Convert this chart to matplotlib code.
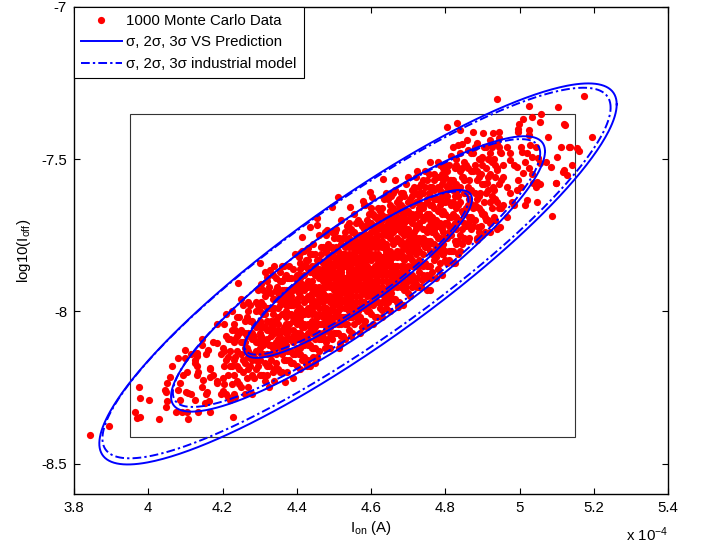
import numpy as np
import matplotlib
matplotlib.use("Agg")
import matplotlib.pyplot as plt
from matplotlib.patches import Rectangle
from matplotlib.lines import Line2D

plt.rcParams['font.family'] = ['Liberation Sans', 'DejaVu Sans']
plt.rcParams['mathtext.fontset'] = 'custom'
plt.rcParams['mathtext.rm'] = 'Liberation Sans'
plt.rcParams['mathtext.it'] = 'Liberation Sans:italic'
plt.rcParams['mathtext.default'] = 'regular'
plt.rcParams['axes.unicode_minus'] = False

# ---------------------------------------------------------------------------
# Monte Carlo samples: I_on (x 1e-4 A) -> list of log10(I_off) values
# ---------------------------------------------------------------------------
ion_cols_low = {
    4.20: [-8.12, -8.22, -8.26],
    4.21: [-8.16, -8.08, -8.27, -8.01],
    4.22: [-8.18, -8.09, -8.29, -8.13],
    4.23: [-8.10, -8.21, -8.04, -8.16],
    4.24: [-8.13, -8.23, -8.02, -8.18, -8.08],
    4.25: [-8.14, -8.06, -8.25, -8.10, -7.96],
    4.26: [-8.10, -8.17, -8.03, -8.27, -8.12, -8.07],
    4.27: [-8.13, -8.07, -8.19, -8.00, -8.15, -7.97],
    4.28: [-8.07, -8.16, -8.03, -8.21, -8.09, -8.27],
    4.29: [-8.10, -8.05, -8.13, -8.00, -8.19, -7.97, -8.16],
    4.30: [-8.09, -8.12, -8.05, -8.16, -8.00, -8.21, -8.07, -8.03],
    4.31: [-7.98, -8.09, -8.05, -8.21, -8.01, -8.14, -7.93, -8.11],
    4.32: [-8.03, -8.21, -7.99, -8.14, -7.94, -8.09, -8.06, -7.90, -8.18],
    4.33: [-8.04, -8.08, -7.99, -8.11, -8.03, -8.16, -7.94, -8.14, -8.06],
    4.34: [-8.06, -7.96, -8.23, -8.03, -8.11, -7.99, -8.07, -7.85, -8.19, -8.04],
    4.35: [-8.02, -8.06, -8.11, -7.96, -8.09, -7.99, -8.19, -8.04, -7.94, -8.07],
    4.36: [-8.09, -7.90, -8.13, -7.93, -8.20, -7.97, -8.06, -8.01, -8.14, -7.85, -8.10],
    4.37: [-8.02, -8.07, -7.98, -8.11, -7.93, -8.04, -8.00, -8.16, -7.96, -8.09, -7.88, -8.06],
    4.38: [-7.98, -8.16, -7.94, -8.09, -7.89, -8.04, -8.01, -7.85, -8.13, -7.97, -8.06, -7.93],
    4.39: [-8.10, -8.02, -7.97, -8.17, -7.93, -8.06, -7.86, -8.03, -7.98, -8.14, -7.92, -8.08, -8.22],
}

ion_cols_mid = {
    4.40: [-8.03, -7.96, -8.07, -8.00, -7.93, -8.12, -7.97, -8.04, -7.88, -8.09, -8.01, -7.91, -8.18, -7.98],
    4.41: [-8.14, -7.99, -7.89, -8.02, -8.09, -7.95, -7.84, -8.07, -8.00, -8.12, -7.92, -8.03, -7.86, -8.19],
    4.42: [-8.11, -7.97, -7.93, -8.00, -8.04, -7.85, -8.08, -7.88, -8.15, -7.92, -8.01, -7.96, -8.09, -7.80, -8.05],
    4.43: [-7.99, -7.95, -8.11, -7.91, -8.04, -7.83, -8.01, -7.90, -8.09, -7.96, -8.16, -7.86, -8.00, -7.92, -8.07],
    4.44: [-7.99, -7.96, -8.03, -7.92, -8.07, -7.87, -7.98, -8.01, -7.94, -8.12, -7.90, -8.05, -7.85, -8.00, -7.97, -7.81],
    4.45: [-7.94, -8.07, -7.85, -8.05, -7.97, -7.92, -8.12, -7.88, -8.01, -7.81, -7.98, -7.93, -8.09, -7.87, -8.03, -8.17],
    4.46: [-7.95, -7.88, -8.07, -7.92, -7.99, -7.83, -8.04, -7.96, -7.86, -8.13, -7.93, -8.01, -7.89, -7.97, -7.75, -8.09, -7.94],
    4.47: [-7.92, -7.96, -8.01, -7.86, -7.99, -7.89, -8.09, -7.94, -7.84, -7.97, -8.04, -7.90, -7.79, -8.02, -7.95, -8.07, -7.87],
    4.48: [-7.90, -8.01, -7.85, -8.06, -7.92, -7.88, -7.95, -7.99, -7.80, -8.03, -7.83, -8.10, -7.87, -7.96, -7.91, -8.04, -7.75, -8.00],
    4.49: [-7.89, -8.02, -7.84, -7.95, -7.91, -8.07, -7.87, -8.00, -7.79, -7.97, -7.86, -8.05, -7.92, -8.12, -7.82, -7.96, -7.88, -8.03],
    4.50: [-7.91, -7.98, -7.87, -8.02, -7.82, -7.93, -7.96, -7.89, -8.07, -7.85, -8.00, -7.80, -7.95, -7.92, -7.76, -8.04, -7.88, -7.97, -7.84],
    4.51: [-7.90, -7.94, -7.85, -7.97, -7.89, -8.02, -7.80, -8.00, -7.92, -7.87, -8.07, -7.83, -7.96, -7.76, -7.93, -7.88, -8.04, -7.82, -7.98],
    4.52: [-7.86, -7.97, -7.90, -7.83, -8.02, -7.87, -7.94, -7.78, -7.99, -7.91, -7.81, -8.08, -7.88, -7.96, -7.84, -7.92, -7.70, -8.04, -7.89],
    4.53: [-7.91, -7.96, -7.81, -7.94, -7.84, -8.04, -7.89, -7.79, -7.92, -7.99, -7.85, -7.74, -7.97, -7.90, -8.02, -7.82, -7.93, -7.76, -8.09],
    4.54: [-7.90, -7.93, -7.86, -7.97, -7.81, -8.02, -7.88, -7.84, -7.91, -7.95, -7.76, -7.99, -7.79, -8.06, -7.83, -7.92, -7.87, -8.00, -7.71, -7.96],
    4.55: [-7.88, -7.93, -7.84, -7.97, -7.79, -7.90, -7.86, -8.02, -7.82, -7.95, -7.74, -7.92, -7.81, -8.00, -7.87, -8.07, -7.77, -7.91, -7.83, -7.98],
    4.56: [-7.89, -7.86, -7.93, -7.82, -7.97, -7.77, -7.88, -7.91, -7.84, -8.02, -7.80, -7.95, -7.75, -7.90, -7.87, -7.71, -7.99, -7.83, -7.92, -7.79],
    4.57: [-7.85, -7.89, -7.80, -7.92, -7.84, -7.97, -7.75, -7.95, -7.87, -7.82, -8.02, -7.78, -7.91, -7.71, -7.88, -7.83, -7.99, -7.77, -7.93, -8.07],
    4.58: [-7.88, -7.81, -7.92, -7.85, -7.78, -7.97, -7.82, -7.89, -7.73, -7.94, -7.86, -7.76, -8.03, -7.83, -7.91, -7.79, -7.87, -7.65, -7.99, -7.84],
    4.59: [-7.83, -7.87, -7.92, -7.77, -7.90, -7.80, -8.00, -7.85, -7.75, -7.88, -7.95, -7.81, -7.70, -7.93, -7.86, -7.98, -7.78, -7.89, -7.72, -8.05],
    4.60: [-7.88, -7.81, -7.92, -7.76, -7.97, -7.83, -7.79, -7.86, -7.90, -7.71, -7.94, -7.74, -8.01, -7.78, -7.87, -7.82, -7.95, -7.66, -7.91],
    4.61: [-7.88, -7.79, -7.92, -7.74, -7.85, -7.81, -7.97, -7.77, -7.90, -7.69, -7.87, -7.76, -7.95, -7.82, -8.02, -7.72, -7.86, -7.78, -7.93],
    4.62: [-7.84, -7.81, -7.88, -7.77, -7.92, -7.72, -7.83, -7.86, -7.79, -7.97, -7.75, -7.90, -7.70, -7.85, -7.82, -7.66, -7.94, -7.78, -7.87],
    4.63: [-7.84, -7.75, -7.87, -7.79, -7.92, -7.70, -7.90, -7.82, -7.77, -7.97, -7.73, -7.86, -7.66, -7.83, -7.78, -7.94, -7.72, -7.88, -8.02],
    4.64: [-7.88, -7.81, -7.74, -7.93, -7.78, -7.85, -7.69, -7.90, -7.82, -7.72, -7.99, -7.79, -7.87, -7.75, -7.83, -7.61, -7.95, -7.80],
    4.65: [-7.87, -7.72, -7.85, -7.75, -7.95, -7.80, -7.70, -7.83, -7.90, -7.76, -7.65, -7.88, -7.81, -7.93, -7.73, -7.84, -7.67, -8.00],
    4.66: [-7.87, -7.71, -7.92, -7.78, -7.74, -7.81, -7.85, -7.66, -7.89, -7.69, -7.96, -7.73, -7.82, -7.77, -7.90, -7.61, -7.86],
    4.67: [-7.87, -7.69, -7.80, -7.76, -7.92, -7.72, -7.85, -7.64, -7.82, -7.71, -7.90, -7.77, -7.97, -7.67, -7.81, -7.73, -7.88],
    4.68: [-7.87, -7.67, -7.78, -7.81, -7.74, -7.92, -7.70, -7.85, -7.65, -7.80, -7.77, -7.61, -7.89, -7.73, -7.82, -7.69],
    4.69: [-7.71, -7.83, -7.75, -7.88, -7.66, -7.86, -7.78, -7.73, -7.93, -7.69, -7.82, -7.62, -7.79, -7.74, -7.90, -7.68],
}

ion_cols_high = {
    4.70: [-7.88, -7.73, -7.80, -7.64, -7.85, -7.77, -7.67, -7.94, -7.74, -7.82, -7.70, -7.78, -7.56, -7.90, -7.75],
    4.71: [-7.80, -7.70, -7.90, -7.75, -7.65, -7.78, -7.85, -7.71, -7.60, -7.83, -7.76, -7.88, -7.68, -7.79, -7.62],
    4.72: [-7.73, -7.69, -7.76, -7.80, -7.61, -7.84, -7.64, -7.91, -7.68, -7.77, -7.72, -7.85, -7.56, -7.81],
    4.73: [-7.71, -7.87, -7.67, -7.80, -7.59, -7.77, -7.66, -7.85, -7.72, -7.92, -7.62, -7.76, -7.68, -7.83],
    4.74: [-7.77, -7.70, -7.88, -7.66, -7.81, -7.61, -7.76, -7.73, -7.57, -7.85, -7.69, -7.78, -7.65],
    4.75: [-7.73, -7.68, -7.88, -7.64, -7.77, -7.57, -7.74, -7.69, -7.85, -7.63, -7.79, -7.93],
    4.76: [-7.59, -7.80, -7.72, -7.62, -7.89, -7.69, -7.77, -7.65, -7.73, -7.51, -7.85, -7.70],
    4.77: [-7.60, -7.73, -7.80, -7.66, -7.55, -7.78, -7.71, -7.83, -7.63, -7.74, -7.57],
    4.78: [-7.56, -7.79, -7.59, -7.86, -7.63, -7.72, -7.67, -7.80, -7.51, -7.76],
    4.79: [-7.55, -7.73, -7.62, -7.81, -7.68, -7.88, -7.58, -7.72, -7.64, -7.79],
    4.80: [-7.83, -7.61, -7.76, -7.56, -7.71, -7.68, -7.52, -7.80, -7.64],
    4.81: [-7.83, -7.59, -7.72, -7.52, -7.69, -7.64, -7.80, -7.58, -7.74],
    4.82: [-7.57, -7.84, -7.64, -7.72, -7.60, -7.68, -7.46, -7.80],
    4.83: [-7.61, -7.50, -7.73, -7.66, -7.78, -7.58, -7.69, -7.52],
    4.84: [-7.64, -7.75, -7.54, -7.70, -7.59, -7.80, -7.48],
    4.85: [-7.68, -7.57, -7.76, -7.61, -7.51, -7.71],
    4.86: [-7.59, -7.71, -7.53, -7.65, -7.77, -7.47],
    4.87: [-7.65, -7.54, -7.73, -7.60, -7.48, -7.69],
    4.88: [-7.61, -7.70, -7.52, -7.65, -7.46],
    4.89: [-7.66, -7.56, -7.74, -7.50, -7.62],
    4.90: [-7.58, -7.68, -7.52, -7.75],
    4.91: [-7.61, -7.53, -7.70, -7.46],
    4.92: [-7.55, -7.64, -7.48, -7.74],
    4.93: [-7.60, -7.50, -7.69],
    4.94: [-7.53, -7.64, -7.45],
    4.95: [-7.57, -7.48, -7.66],
}

ion_cols_tail_low = {
    4.105: [-8.20, -8.33], 4.115: [-8.27, -8.14], 4.125: [-8.16, -8.29],
    4.135: [-8.33, -8.20], 4.145: [-8.09, -8.25], 4.155: [-8.27, -8.14],
    4.165: [-8.19, -8.33], 4.175: [-8.10, -8.21], 4.185: [-8.23, -8.04],
    4.195: [-8.14, -8.27],
    4.205: [-8.13, -8.24, -8.04, -8.18],
    4.215: [-8.21, -8.09, -8.28, -8.15],
    4.225: [-8.06, -8.18, -8.24, -8.00],
    4.235: [-8.15, -8.09, -8.28, -8.06],
    4.245: [-8.07, -8.19, -8.02, -8.24],
    4.255: [-8.16, -8.10, -7.98, -8.20],
    4.265: [-8.02, -8.22, -8.12, -8.08],
    4.275: [-8.18, -8.03, -8.14, -7.98],
    4.285: [-8.08, -8.22, -8.04, -8.15],
    4.295: [-8.18, -7.98, -8.10, -7.93],
    4.305: [-8.04, -8.14, -7.97, -8.21, -8.08, -7.91],
    4.315: [-8.10, -8.01, -8.17, -7.95, -8.23, -8.05],
    4.325: [-7.99, -8.11, -8.18, -7.92, -8.06, -8.25],
    4.335: [-8.12, -7.96, -8.07, -8.20, -8.01, -7.88],
    4.345: [-8.03, -8.14, -7.93, -8.10, -7.89, -8.17],
    4.355: [-8.07, -7.98, -8.20, -7.95, -8.12, -7.90],
    4.365: [-7.93, -8.11, -8.01, -8.16, -7.85, -8.05],
    4.375: [-8.13, -7.98, -7.89, -8.07, -8.20, -7.95],
    4.385: [-8.01, -8.13, -7.95, -8.17, -7.89, -7.98],
    4.395: [-8.09, -7.89, -8.03, -7.92, -8.14, -7.81],
}

ion_cols_ring = {
    4.405: [-7.88, -8.14, -7.82, -8.08, -7.94],
    4.415: [-8.16, -7.91, -8.05, -7.80, -8.11],
    4.425: [-7.85, -8.09, -8.17, -7.92, -7.83],
    4.435: [-8.11, -7.81, -8.05, -7.87, -8.18],
    4.445: [-7.87, -8.12, -7.78, -8.06, -7.93],
    4.455: [-8.08, -7.83, -8.15, -7.88, -8.02],
    4.465: [-7.79, -8.04, -7.81, -8.09, -7.94],
    4.475: [-8.09, -7.84, -8.12, -7.74, -7.99],
    4.485: [-7.85, -8.12, -7.81, -8.04, -7.78],
    4.495: [-8.04, -7.74, -7.99, -7.79, -8.09],
    4.505: [-7.79, -8.07, -7.73, -8.01],
    4.515: [-8.04, -7.76, -8.12, -7.84],
    4.525: [-7.76, -8.02, -7.81, -8.08],
    4.535: [-8.04, -7.72, -7.98, -7.78],
    4.545: [-7.78, -8.08, -7.73, -8.02],
    4.555: [-8.04, -7.74, -7.98, -7.68],
    4.565: [-7.70, -8.00, -7.79, -8.03],
    4.575: [-7.97, -7.75, -8.05, -7.72],
    4.585: [-7.72, -8.03, -7.65, -7.94],
    4.595: [-8.00, -7.75, -7.98, -7.68],
    4.605: [-7.72, -7.98, -7.68, -8.04],
    4.615: [-8.02, -7.69, -7.93, -7.73],
    4.625: [-7.67, -7.93, -7.70, -7.99],
    4.635: [-7.95, -7.63, -7.97, -7.73],
    4.645: [-7.71, -7.97, -7.63, -7.92],
    4.655: [-7.68, -7.94, -7.62, -7.88, -7.74],
    4.665: [-7.96, -7.71, -7.85, -7.60, -7.91],
    4.675: [-7.65, -7.89, -7.97, -7.72, -7.63],
    4.685: [-7.91, -7.61, -7.85, -7.67, -7.98],
    4.695: [-7.67, -7.92, -7.58, -7.86, -7.73],
    4.705: [-7.88, -7.63, -7.95, -7.68, -7.82],
    4.715: [-7.59, -7.84, -7.61, -7.89, -7.74],
    4.725: [-7.89, -7.64, -7.92, -7.54, -7.79],
    4.735: [-7.65, -7.92, -7.61, -7.84, -7.58],
    4.745: [-7.84, -7.54, -7.79, -7.59, -7.89],
}

ion_cols_tail_high = {
    4.755: [-7.68, -7.78, -7.61, -7.85, -7.72, -7.55],
    4.765: [-7.74, -7.65, -7.81, -7.59, -7.87, -7.69],
    4.775: [-7.63, -7.75, -7.82, -7.56, -7.70, -7.89],
    4.785: [-7.76, -7.60, -7.71, -7.84, -7.65, -7.52],
    4.795: [-7.67, -7.78, -7.57, -7.74, -7.53, -7.81],
    4.805: [-7.71, -7.62, -7.84, -7.59, -7.76, -7.54],
    4.815: [-7.57, -7.75, -7.65, -7.80, -7.49, -7.69],
    4.825: [-7.77, -7.62, -7.53, -7.71, -7.84, -7.59],
    4.835: [-7.65, -7.77, -7.59, -7.81, -7.53, -7.62],
    4.845: [-7.73, -7.53, -7.67, -7.56, -7.78, -7.45],
    4.855: [-7.61, -7.72, -7.52, -7.66],
    4.865: [-7.69, -7.57, -7.76, -7.63],
    4.875: [-7.54, -7.66, -7.72, -7.48],
    4.885: [-7.63, -7.57, -7.76, -7.54],
    4.895: [-7.55, -7.67, -7.50, -7.72],
    4.905: [-7.64, -7.58, -7.46, -7.68],
    4.915: [-7.50, -7.70, -7.60, -7.56],
    4.925: [-7.66, -7.51, -7.62, -7.46],
    4.935: [-7.56, -7.70, -7.52, -7.63],
    4.945: [-7.66, -7.46, -7.58, -7.41],
    4.955: [-7.52, -7.65], 4.965: [-7.59, -7.46], 4.975: [-7.48, -7.61],
    4.985: [-7.65, -7.52], 4.995: [-7.41, -7.57], 5.005: [-7.59, -7.46],
    5.015: [-7.51, -7.65], 5.025: [-7.42, -7.53], 5.035: [-7.55, -7.36],
    5.045: [-7.46, -7.59],
}

# scattered samples away from the dense band: (I_on x1e-4, log10 I_off)
sparse_low = [
    (3.843, -8.405), (3.894, -8.375), (3.964, -8.332), (3.978, -8.346), (3.970, -8.350),
    (4.029, -8.355), (3.975, -8.247), (3.978, -8.283), (4.002, -8.290), (4.048, -8.264),
    (4.051, -8.296), (4.048, -8.313), (4.075, -8.329), (4.107, -8.355), (4.229, -8.346),
    (4.059, -8.214), (4.081, -8.152), (4.064, -8.180), (4.086, -8.234), (4.102, -8.264),
    (4.132, -8.180), (4.132, -8.147), (4.051, -8.234), (4.045, -8.257), (4.091, -8.332),
    (4.086, -8.290), (4.081, -8.257), (4.107, -8.267), (4.099, -8.152), (4.094, -8.208),
    (4.126, -8.168), (4.132, -8.208), (4.148, -8.224), (4.167, -8.214), (4.159, -8.264),
    (4.186, -8.234), (4.167, -8.185), (4.153, -8.300), (4.164, -8.296), (4.231, -8.273),
    (4.269, -8.247), (4.369, -8.231), (4.428, -8.180), (4.145, -8.109), (4.185, -8.103),
    (4.161, -8.126), (4.099, -8.126), (4.132, -8.136), (4.490, -8.083), (4.517, -8.103),
    (4.444, -8.149), (4.630, -7.994), (4.673, -7.985), (4.711, -7.919), (4.738, -7.896),
    (4.760, -7.929),
]

sparse_upper = [
    (4.242, -7.906), (4.301, -7.841), (4.315, -7.870), (4.328, -7.863), (4.320, -7.886),
    (4.355, -7.870), (4.369, -7.886), (4.415, -7.755), (4.436, -7.722), (4.455, -7.715),
    (4.455, -7.692), (4.495, -7.656), (4.512, -7.623), (4.544, -7.656), (4.579, -7.637),
    (4.598, -7.607), (4.603, -7.623), (4.633, -7.564), (4.665, -7.568), (4.606, -7.683),
    (4.630, -7.683), (4.504, -7.738), (4.482, -7.732), (4.409, -7.807), (4.431, -7.791),
    (4.347, -7.919), (4.361, -7.945),
]

sparse_high = [
    (5.175, -7.292), (5.105, -7.328), (5.026, -7.325), (4.940, -7.302), (5.059, -7.351),
    (5.054, -7.377), (5.010, -7.368), (4.999, -7.384), (4.997, -7.400), (5.026, -7.404),
    (5.121, -7.384), (5.078, -7.427), (5.196, -7.427), (5.113, -7.459), (5.134, -7.459),
    (5.156, -7.463), (5.159, -7.473), (5.102, -7.492), (5.142, -7.519), (5.118, -7.542),
    (5.129, -7.551), (5.099, -7.578), (5.086, -7.525), (5.072, -7.509), (5.051, -7.496),
    (5.021, -7.479), (5.008, -7.476), (5.048, -7.574), (5.056, -7.581), (5.088, -7.686),
    (5.048, -7.640), (4.981, -7.640), (4.940, -7.729), (4.921, -7.709), (4.908, -7.689),
    (5.029, -7.453), (5.035, -7.492), (5.056, -7.512), (5.010, -7.545), (5.037, -7.578),
    (4.994, -7.601), (5.021, -7.633), (4.967, -7.689), (4.948, -7.722), (4.975, -7.502),
    (4.994, -7.525), (4.902, -7.414), (4.921, -7.437), (4.886, -7.446), (4.859, -7.437),
    (4.948, -7.476), (4.921, -7.502), (4.900, -7.492), (4.940, -7.535), (4.956, -7.558),
    (4.913, -7.578), (4.929, -7.591), (4.894, -7.610), (4.867, -7.643), (4.886, -7.656),
    (4.840, -7.404), (4.805, -7.394), (4.832, -7.381), (5.123, -7.387), (5.137, -7.459),
    (5.121, -7.535), (5.097, -7.578), (4.835, -7.453), (4.876, -7.410), (4.929, -7.414),
    (4.946, -7.430), (4.849, -7.676), (4.867, -7.699), (4.889, -7.722), (4.813, -7.568),
    (4.849, -7.558), (4.886, -7.765), (4.908, -7.738),
]

# Gaussian models: mean I_on, mean log10 I_off, sd I_on, sd log10 I_off, correlation
vs_model = (4.565, -7.877, 0.2026, 0.182, 0.89)
industrial_model = (4.561, -7.874, 0.199, 0.177, 0.893)
sigma_coverage = [0.6827, 0.9545, 0.9973]

# spec window drawn as a box
spec_ion = (3.95, 5.15)
spec_log_ioff = (-8.414, -7.35)

x_ticks = [3.8, 4.0, 4.2, 4.4, 4.6, 4.8, 5.0, 5.2, 5.4]
x_tick_labels = ['3.8', '4', '4.2', '4.4', '4.6', '4.8', '5', '5.2', '5.4']
y_ticks = [-8.5, -8.0, -7.5, -7.0]
y_tick_labels = ['-8.5', '-8', '-7.5', '-7']

legend_labels = ['1000 Monte Carlo Data',
                 'σ, 2σ, 3σ VS Prediction',
                 'σ, 2σ, 3σ industrial model']

# ---------------------------------------------------------------------------
ion, log_ioff = [], []
for cols in (ion_cols_low, ion_cols_mid, ion_cols_high,
             ion_cols_tail_low, ion_cols_ring, ion_cols_tail_high):
    for x, ylist in cols.items():
        ion.extend([x] * len(ylist))
        log_ioff.extend(ylist)
for pts in (sparse_low, sparse_upper, sparse_high):
    for x, y in pts:
        ion.append(x)
        log_ioff.append(y)


def contour(model, coverage, n=400):
    mx, my, sx, sy, rho = model
    k = np.sqrt(-2.0 * np.log(1.0 - coverage))
    t = np.linspace(0.0, 2.0 * np.pi, n)
    d = np.arccos(rho)
    return mx + k * sx * np.cos(t), my + k * sy * np.cos(t - d)


fig = plt.figure(figsize=(7.04, 5.48), dpi=100)
ax = fig.add_axes([74 / 704, 54 / 548, 594 / 704, 487 / 548])

ax.add_patch(Rectangle((spec_ion[0], spec_log_ioff[0]),
                       spec_ion[1] - spec_ion[0],
                       spec_log_ioff[1] - spec_log_ioff[0],
                       fill=False, edgecolor='#333333', linewidth=0.8, zorder=1))

dot_size = 5.2
ax.plot(ion, log_ioff, 'o', color='#ff0000', markersize=dot_size,
        markeredgewidth=0, zorder=2)

blue = '#0000ff'
dashdot = (0, (4.5, 1.6, 1.2, 1.6))
for p in sigma_coverage:
    xs, ys = contour(vs_model, p)
    ax.plot(xs, ys, color=blue, linewidth=1.4, zorder=3)
    xs, ys = contour(industrial_model, p)
    ax.plot(xs, ys, color=blue, linewidth=1.4, linestyle=dashdot, zorder=3)

ax.set_xlim(3.8, 5.4)
ax.set_ylim(-8.6, -7.0)
ax.set_xticks(x_ticks)
ax.set_xticklabels(x_tick_labels)
ax.set_yticks(y_ticks)
ax.set_yticklabels(y_tick_labels)
ax.tick_params(direction='in', top=True, right=True, length=4, width=0.8,
               labelsize=10.8, pad=5, colors='black')
for s in ax.spines.values():
    s.set_linewidth(1.0)
    s.set_color('black')

ax.set_xlabel('I$_{\\mathrm{on}}$ (A)', fontsize=10.8, labelpad=3)
ax.set_ylabel('log10(I$_{\\mathrm{off}}$)', fontsize=10.8, labelpad=6)
fig.text(668 / 704, 1 - 541 / 548, 'x 10$^{-4}$', ha='right', va='baseline',
         fontsize=10.8)

handles = [
    Line2D([], [], marker='o', linestyle='none', color='#ff0000',
           markersize=dot_size, markeredgewidth=0),
    Line2D([], [], color=blue, linewidth=1.4),
    Line2D([], [], color=blue, linewidth=1.4, linestyle=dashdot),
]
leg = ax.legend(handles, legend_labels, loc='upper left',
                bbox_to_anchor=(0, 1), borderaxespad=0, fontsize=10.8,
                handlelength=2.75, handletextpad=0.3, borderpad=0.45,
                labelspacing=0.5, fancybox=False, framealpha=1,
                edgecolor='black')
leg.get_frame().set_linewidth(0.8)

fig.savefig('out.png', dpi=100)
